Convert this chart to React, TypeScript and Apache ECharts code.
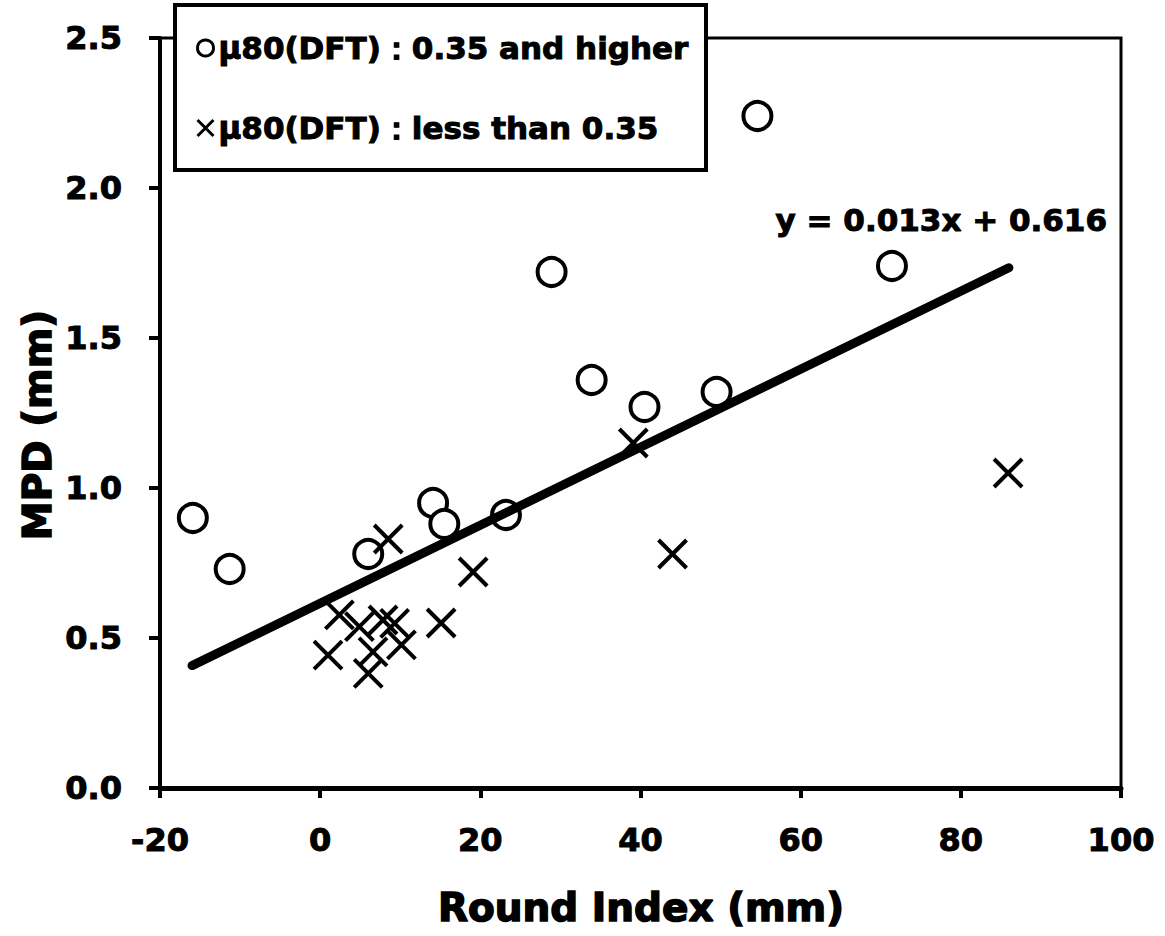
import React, { useEffect, useRef } from "react";
import * as echarts from "echarts";

// Circles: μ80(DFT) 0.35 and higher
const highX = [-15.9, -11.3, 6.0, 14.1, 15.5, 23.2, 28.9, 33.9, 40.5, 49.5, 54.6, 71.4];
const highY = [0.90, 0.73, 0.78, 0.95, 0.88, 0.91, 1.72, 1.36, 1.27, 1.32, 2.24, 1.74];
// Crosses: μ80(DFT) less than 0.35
const lowX = [0.98, 2.4, 4.9, 6.0, 6.6, 7.85, 9.3, 10.15, 8.5, 15.1, 19.1, 39.1, 44.0, 85.9];
const lowY = [0.443, 0.577, 0.538, 0.382, 0.454, 0.56, 0.549, 0.477, 0.83, 0.55, 0.72, 1.15, 0.78, 1.05];
// Trend line
const slope = 0.013;
const intercept = 0.616;
const trendX = [-16, 86];
const equationText = "y = 0.013x + 0.616";

const seriesNames = ["μ80(DFT)：0.35 and higher", "μ80(DFT)：less than 0.35"];
const xTitle = "Round Index (mm)";
const yTitle = "MPD (mm)";

const FONT = "DejaVu Sans";
const CROSS = "path://M0,0L20,20M20,0L0,20";

export default function App() {
  const ref = useRef<HTMLDivElement>(null);
  useEffect(() => {
    if (!ref.current) return;
    const chart = echarts.init(ref.current, undefined, { renderer: "svg" });
    const labelStyle = {
      fontFamily: FONT, fontWeight: "bold", fontSize: 32, color: "#000",
      textBorderColor: "#000", textBorderWidth: 1,
    };
    chart.setOption({
      animation: false,
      backgroundColor: "#fff",
      grid: { left: 160, right: 44, top: 38, bottom: 148, show: true, borderColor: "#000", borderWidth: 3 },
      xAxis: {
        type: "value", min: -20, max: 100, interval: 20,
        axisLine: { show: true, onZero: false, lineStyle: { color: "#000", width: 5 } },
        axisTick: { show: true, inside: false, length: 10, lineStyle: { color: "#000", width: 4 } },
        axisLabel: { ...labelStyle, margin: 36 },
        splitLine: { show: false },
      },
      yAxis: {
        type: "value", min: 0, max: 2.5, interval: 0.5,
        axisLine: { show: true, onZero: false, lineStyle: { color: "#000", width: 4 } },
        axisTick: { show: true, inside: false, length: 11, lineStyle: { color: "#000", width: 4 } },
        axisLabel: { ...labelStyle, margin: 38, formatter: (v: number) => v.toFixed(1) },
        splitLine: { show: false },
      },
      legend: {
        orient: "vertical", left: 195, top: 30, padding: 0, itemGap: 44,
        itemWidth: 16, itemHeight: 16, z: 10, selectedMode: false,
        textStyle: {
          fontFamily: FONT, fontWeight: "bold", fontSize: 31, color: "#000", lineHeight: 36,
          textBorderColor: "#000", textBorderWidth: 1,
        },
        data: [
          { name: seriesNames[0], icon: "circle", itemStyle: { color: "#fff", borderColor: "#000", borderWidth: 3, opacity: 1 } },
          { name: seriesNames[1], icon: CROSS, itemStyle: { color: "none", borderColor: "#000", borderWidth: 3, opacity: 1 } },
        ],
      },
      graphic: [
        { type: "rect", z: 5, shape: { x: 175, y: 5, width: 531, height: 165 }, style: { fill: "#fff", stroke: "#000", lineWidth: 4 } },
        { type: "text", z: 5, x: 1107, y: 220, style: { text: equationText, font: `bold 31px "${FONT}"`, fill: "#000", stroke: "#000", lineWidth: 1, align: "right", verticalAlign: "middle" } },
        { type: "text", z: 5, x: 641, y: 907, style: { text: xTitle, font: `bold 39px "${FONT}"`, fill: "#000", stroke: "#000", lineWidth: 1.5, align: "center", verticalAlign: "middle" } },
        { type: "text", z: 5, x: 37, y: 425, rotation: Math.PI / 2, style: { text: yTitle, font: `bold 39px "${FONT}"`, fill: "#000", stroke: "#000", lineWidth: 1.5, align: "center", verticalAlign: "middle" } },
      ],
      series: [
        {
          name: seriesNames[0], type: "scatter", z: 2, silent: true,
          symbol: "circle", symbolSize: 28,
          itemStyle: { color: "#fff", borderColor: "#000", borderWidth: 4, opacity: 1 },
          data: highX.map((x, i) => [x, highY[i]]),
        },
        {
          name: "trend", type: "line", z: 3, silent: true, symbol: "none",
          lineStyle: { color: "#000", width: 9, cap: "round" },
          data: trendX.map((x) => [x, slope * x + intercept]),
        },
        {
          name: seriesNames[1], type: "scatter", z: 4, silent: true,
          symbol: CROSS, symbolSize: 28,
          itemStyle: { color: "none", borderColor: "#000", borderWidth: 4, opacity: 1 },
          data: lowX.map((x, i) => [x, lowY[i]]),
        },
      ],
    });
    return () => chart.dispose();
  }, []);
  return <div ref={ref} style={{ position: "fixed", left: 0, top: 0, width: 1165, height: 936, background: "#fff" }} />;
}
